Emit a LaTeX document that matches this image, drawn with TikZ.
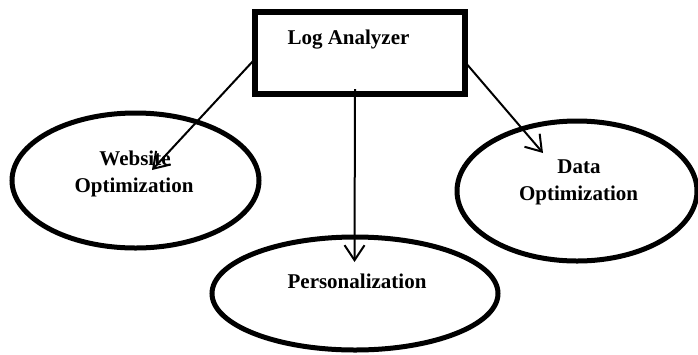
\documentclass[tikz,border=0pt]{standalone}
\usepackage{fontspec}
\setmainfont{Liberation Serif}
\usetikzlibrary{arrows.meta,shapes.geometric}
\begin{document}
\begin{tikzpicture}[x=1pt,y=-1pt,
  lbl/.style={font=\fontsize{21}{27}\selectfont\bfseries, inner sep=0pt, anchor=base, align=center},
  ell/.style={draw, ellipse, line width=5pt, inner sep=0pt},
  boxst/.style={draw, rectangle, line width=6pt, inner sep=0pt, minimum width=210pt, minimum height=82.5pt},
  arr/.style={line width=2pt, -{Straight Barb[length=15pt,width=20pt,line width=2pt]}}]
\useasboundingbox (0,0) rectangle (698,354);
% box
\node[boxst] (box) at (359.5,52.75) {};
\node[lbl] (boxt) at (348.5,44) {Log Analyzer};
% ellipses
\node[ell, minimum width=247pt, minimum height=135pt] (web) at (135.5,180.5) {};
\node[ell, minimum width=286pt, minimum height=113pt] (pers) at (355,293.5) {};
\node[ell, minimum width=240pt, minimum height=140pt] (data) at (577,191) {};
% labels
\node[lbl] (webt1) at (135,165) {Website};
\node[lbl] (webt2) at (134,192) {Optimization};
\node[lbl] (perst) at (357,288) {Personalization};
\node[lbl] (datat1) at (579,173) {Data};
\node[lbl] (datat2) at (578.5,200) {Optimization};
% connector ends
\coordinate (s1) at (254,60);
\coordinate (t1) at (152,170);
\coordinate (s2) at (355,89);
\coordinate (t2) at (354.5,262);
\coordinate (s3) at (465,62);
\coordinate (t3) at (543,153);
\draw[arr] (s1) -- (t1);
\draw[arr] (s2) -- (t2);
\draw[arr] (s3) -- (t3);
\end{tikzpicture}
\end{document}
